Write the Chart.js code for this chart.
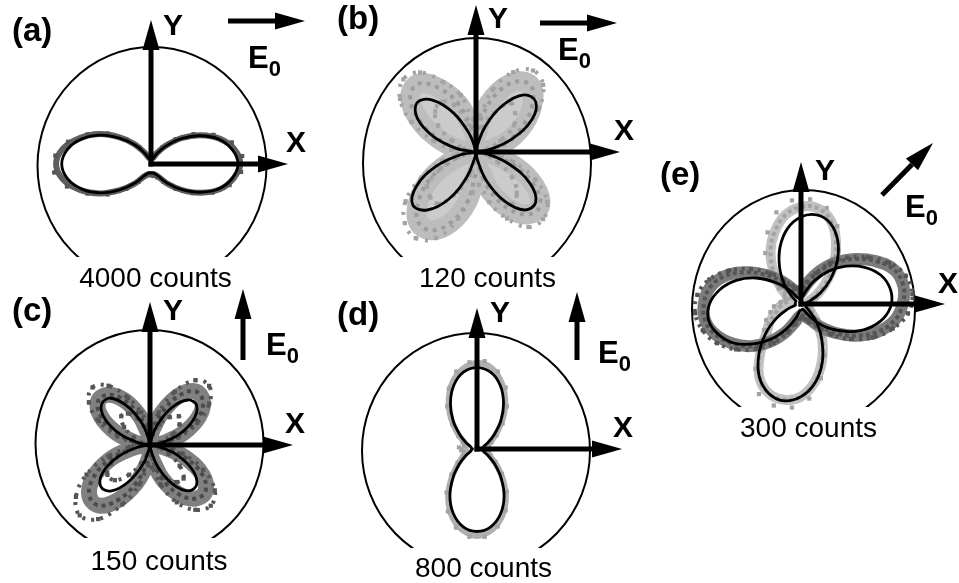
<!DOCTYPE html>
<html>
<head>
<meta charset="utf-8">
<title>Polar emission patterns</title>
<script src="https://cdn.jsdelivr.net/npm/chart.js@4.4.0/dist/chart.umd.min.js"></script>
<style>
  html, body { margin: 0; padding: 0; background: #fff; }
  #wrap { position: relative; width: 959px; height: 583px; overflow: hidden; }
  #wrap canvas { position: absolute; left: 0; top: 0; }
</style>
</head>
<body>
<div id="wrap">
  <canvas id="panel-a" width="959" height="583"></canvas>
  <canvas id="panel-b" width="959" height="583"></canvas>
  <canvas id="panel-c" width="959" height="583"></canvas>
  <canvas id="panel-d" width="959" height="583"></canvas>
  <canvas id="panel-e" width="959" height="583"></canvas>
</div>
<script>
/*
Polar plots of emission patterns, five panels (a)-(e).
Radii are in units where the outer ring = 100.
Angles in degrees, counter-clockwise from +X.
*/

const theta = [0, 10, 20, 30, 40, 50, 60, 70, 80, 90, 100, 110, 120, 130, 140, 150, 160, 170, 180,
  190, 200, 210, 220, 230, 240, 250, 260, 270, 280, 290, 300, 310, 320, 330, 340, 350, 360];
const thetaShift = [-90, -80, -70, -60, -50, -40, -30, -20, -10, 0, 10, 20, 30, 40, 50, 60, 70, 80, 90,
  100, 110, 120, 130, 140, 150, 160, 170, 180, 190, 200, 210, 220, 230, 240, 250, 260, 270];
const thetaMid = [5, 15, 25, 35, 45, 55, 65, 75, 85, 95, 105, 115, 125, 135, 145, 155, 165, 175,
  185, 195, 205, 215, 225, 235, 245, 255, 265, 275, 285, 295, 305, 315, 325, 335, 345, 355];
const thetaShiftMid = [-85, -75, -65, -55, -45, -35, -25, -15, -5, 5, 15, 25, 35, 45, 55, 65, 75, 85,
  95, 105, 115, 125, 135, 145, 155, 165, 175, 185, 195, 205, 215, 225, 235, 245, 255, 265];

// (a) 4000 counts, E0 along X (uses thetaShift)
const fitA = [8, 8, 9, 12, 22, 35, 50, 64, 73, 77, 73, 64, 50, 35, 21, 11, 5, 4, 4,
  4, 5, 11, 22, 35, 51, 65, 75, 79, 75, 65, 51, 35, 22, 12, 9, 8, 8];
const dataA = [9, 9, 10, 13, 23, 36, 51, 65, 74, 79, 75, 65, 51, 36, 22, 12, 6, 5, 5,
  5, 6, 12, 23, 37, 53, 67, 79, 84, 79, 67, 52, 36, 23, 13, 10, 9, 9];
const scatterA = [10, 11, 13, 19, 31, 45, 60, 72, 80, 81, 74, 61, 46, 31, 18, 10, 6, 6,
  6, 6, 9, 18, 31, 47, 62, 76, 85, 86, 77, 62, 47, 31, 19, 12, 10, 10];

// (b) 120 counts, E0 along X
const fitB = [0, 12, 34, 57, 69, 66, 48, 24, 5, 0, 2, 17, 40, 60, 68, 60, 40, 17, 2,
  14, 38, 61, 73, 67, 48, 23, 4, 0, 7, 27, 50, 67, 69, 55, 31, 10, 0];
const dataB = [3, 13, 31, 49, 65, 76, 72, 56, 33, 15, 22, 45, 65, 79, 76, 59, 37, 18, 7,
  9, 23, 46, 66, 80, 80, 67, 45, 19, 16, 37, 58, 72, 74, 60, 37, 16, 3];
const scatterOutB = [9, 26, 46, 68, 84, 88, 78, 57, 31, 29, 52, 68, 86, 91, 82, 63, 39, 22,
  17, 31, 53, 76, 89, 93, 84, 61, 36, 29, 46, 65, 81, 84, 77, 58, 34, 16];
const scatterInB = [3, 11, 24, 41, 49, 53, 38, 23, 9, 11, 25, 46, 54, 51, 41, 23, 11, 5,
  6, 16, 34, 53, 57, 56, 39, 21, 9, 8, 25, 41, 56, 51, 39, 21, 9, 4];

// (c) 150 counts, E0 along Y
const fitC = [0, 9, 27, 44, 54, 52, 38, 19, 4, 0, 4, 20, 39, 54, 56, 46, 28, 9, 0,
  11, 30, 48, 57, 53, 37, 18, 3, 0, 5, 21, 40, 53, 54, 43, 25, 8, 0];
const dataC = [4, 14, 32, 50, 61, 62, 50, 30, 14, 8, 12, 28, 46, 58, 60, 50, 32, 14, 6,
  16, 38, 58, 70, 70, 56, 36, 18, 10, 14, 32, 50, 62, 64, 54, 34, 14, 4];
const scatterOutC = [10, 26, 46, 64, 74, 70, 52, 30, 16, 18, 30, 46, 64, 72, 66, 50, 30, 14,
  18, 38, 62, 80, 88, 80, 58, 36, 18, 20, 36, 56, 70, 76, 70, 52, 30, 12];
const scatterInC = [3, 10, 22, 32, 36, 30, 20, 10, 6, 6, 14, 26, 34, 36, 28, 16, 8, 4,
  8, 22, 38, 46, 44, 32, 18, 8, 4, 6, 18, 32, 40, 42, 32, 18, 8, 3];

// (d) 800 counts, E0 along Y
const fitD = [4, 5, 6, 11, 20, 33, 47, 60, 69, 72, 69, 60, 47, 33, 20, 11, 6, 5, 4,
  5, 6, 11, 20, 33, 48, 61, 70, 73, 70, 61, 48, 33, 20, 11, 6, 5, 4];
const dataD = [9, 8, 10, 15, 23, 36, 50, 63, 73, 76, 72, 63, 50, 36, 23, 14, 10, 10, 12,
  9, 10, 15, 23, 36, 51, 64, 73, 77, 73, 64, 51, 36, 23, 14, 10, 8, 9];
const scatterD = [10, 11, 14, 21, 32, 46, 60, 71, 78, 77, 71, 59, 46, 31, 20, 14, 12, 16,
  14, 12, 14, 21, 32, 47, 61, 72, 78, 78, 71, 60, 46, 31, 20, 13, 11, 10];

// (e) 300 counts, E0 at 45 deg: horizontal lobes (dark, thetaShift) + vertical lobes (light, theta)
const fitEH = [5, 5, 5, 9, 20, 34, 49, 63, 74, 80, 80, 75, 65, 52, 38, 24, 12, 6, 5,
  5, 5, 7, 17, 30, 46, 61, 73, 81, 83, 78, 69, 55, 40, 25, 13, 6, 5];
const fitEV = [5, 5, 9, 20, 34, 50, 65, 76, 80, 77, 68, 54, 38, 23, 11, 5, 5, 5, 5,
  5, 12, 25, 41, 58, 74, 84, 87, 82, 71, 55, 37, 22, 10, 5, 5, 5, 5];
const dataEH = [10, 10, 12, 16, 26, 40, 56, 72, 84, 90, 92, 88, 76, 62, 48, 34, 22, 14, 10,
  10, 12, 16, 26, 40, 56, 72, 82, 86, 86, 80, 70, 58, 44, 30, 18, 12, 10];
const scatterEH = [12, 14, 18, 24, 38, 54, 70, 84, 95, 99, 96, 86, 72, 58, 44, 30, 20, 15,
  13, 14, 18, 26, 38, 54, 70, 84, 92, 94, 90, 82, 70, 56, 42, 28, 18, 13];
const dataEV = [6, 6, 8, 16, 28, 45, 62, 78, 86, 86, 80, 68, 54, 38, 24, 14, 10, 12, 16,
  20, 24, 32, 40, 56, 74, 84, 86, 82, 70, 54, 38, 22, 12, 8, 6, 6, 6];
const scatterEV = [8, 9, 14, 24, 40, 58, 76, 88, 93, 92, 84, 70, 55, 38, 24, 16, 14, 18,
  24, 28, 34, 40, 52, 70, 88, 93, 92, 84, 68, 50, 34, 20, 12, 9, 8, 8];

const W = 959;
const H = 583;
const K = 1.13; // px per unit
const FONT = "'Liberation Sans', Arial, sans-serif";
const DARK = '#555555';
const LIGHT = '#a3a3a3';

function toXY(angles, radii) {
  return radii.map((r, i) => {
    const t = (angles[i] * Math.PI) / 180;
    return { x: r * Math.cos(t), y: r * Math.sin(t) };
  });
}

const fitLine = (angles, radii) => ({
  data: toXY(angles, radii),
  showLine: true,
  borderColor: '#000',
  borderWidth: 2.8,
  pointRadius: 0,
  tension: 0.4,
});

// smooth band under the measured points, optionally filled inside
const band = (angles, radii, color, width, fillColor) => ({
  data: toXY(angles, radii),
  showLine: true,
  borderColor: color,
  borderWidth: width,
  borderJoinStyle: 'round',
  borderCapStyle: 'round',
  pointRadius: 0,
  tension: 0.4,
  fill: fillColor ? 'shape' : false,
  backgroundColor: fillColor || 'transparent',
});

// dashed trace to give the band a speckled look
const speckle = (angles, radii, color, dash, offset) => ({
  data: toXY(angles, radii),
  showLine: true,
  borderColor: color,
  borderWidth: 4,
  borderDash: dash,
  borderDashOffset: offset,
  borderCapStyle: 'butt',
  pointRadius: 0,
  tension: 0.4,
});

const dots = (angles, radii, color) => ({
  data: toXY(angles, radii),
  showLine: false,
  pointStyle: 'rect',
  pointRadius: 3,
  pointBackgroundColor: color,
  pointBorderWidth: 0,
  borderWidth: 0,
});

/* page layout of each panel, in px (first dataset is drawn on top) */
const panels = [
  {
    id: 'panel-a', origin: [151, 164],
    ring: { cx: 152, cy: 166, a: 114.5, b: 119, cut: 257 },
    yTip: 20, xTip: 288, field: [228, 21, 305, 21],
    tag: ['(a)', 12, 41], yLabel: [163, 35], xLabel: [286, 152], eLabel: [248, 68],
    counts: ['4000 counts', 155.5, 287],
    datasets: [
      fitLine(thetaShift, fitA),
      dots(thetaShiftMid, scatterA, DARK),
      band(thetaShift, dataA, '#5e5e5e', 6),
    ],
  },
  {
    id: 'panel-b', origin: [476, 152],
    ring: { cx: 477, cy: 163, a: 114, b: 125, cut: 257 },
    yTip: 5, xTip: 620, field: [540, 23, 617, 23],
    tag: ['(b)', 337, 29], yLabel: [488, 28], xLabel: [614, 140], eLabel: [558, 60],
    counts: ['120 counts', 487.5, 287],
    datasets: [
      fitLine(theta, fitB),
      dots(thetaMid, scatterOutB, LIGHT),
      dots(thetaMid, scatterInB, LIGHT),
      speckle(theta, dataB, '#9c9c9c', [4, 5], 0),
      speckle(thetaMid, scatterOutB, LIGHT, [3, 7], 3),
      speckle(thetaMid, scatterInB, LIGHT, [4, 6], 5),
      band(theta, dataB, '#bdbdbd', 20, '#cbcbcb'),
    ],
  },
  {
    id: 'panel-c', origin: [150, 445],
    ring: { cx: 149.5, cy: 443.5, a: 114, b: 113.5, cut: 538 },
    yTip: 302, xTip: 293, field: [243, 360, 243, 289],
    tag: ['(c)', 12, 321], yLabel: [163, 320], xLabel: [285, 433], eLabel: [266, 355],
    counts: ['150 counts', 159, 570],
    datasets: [
      fitLine(theta, fitC),
      dots(thetaMid, scatterOutC, DARK),
      dots(thetaMid, scatterInC, DARK),
      speckle(theta, dataC, '#4a4a4a', [4, 4], 0),
      speckle(thetaMid, scatterOutC, DARK, [3, 6], 2),
      speckle(thetaMid, scatterInC, DARK, [3, 6], 4),
      band(theta, dataC, '#808080', 16),
    ],
  },
  {
    id: 'panel-d', origin: [477, 449],
    ring: { cx: 476, cy: 450.5, a: 114, b: 117.4, cut: 548 },
    yTip: 308, xTip: 622, field: [577, 360, 577, 292],
    tag: ['(d)', 337, 325], yLabel: [490, 322], xLabel: [613, 437], eLabel: [598, 363],
    counts: ['800 counts', 483.5, 577],
    datasets: [
      fitLine(theta, fitD),
      dots(thetaMid, scatterD, LIGHT),
      band(theta, dataD, '#b0b0b0', 6),
    ],
  },
  {
    id: 'panel-e', origin: [801, 304],
    ring: { cx: 803.5, cy: 309, a: 111.5, b: 119, cut: 407 },
    yTip: 162, xTip: 945, field: [882, 195, 933, 143],
    tag: ['(e)', 660, 185], yLabel: [815, 180], xLabel: [938, 293], eLabel: [905, 217],
    counts: ['300 counts', 808.5, 437],
    datasets: [
      fitLine(thetaShift, fitEH),
      fitLine(theta, fitEV),
      dots(thetaShiftMid, scatterEH, DARK),
      speckle(thetaShift, dataEH, DARK, [4, 3], 0),
      speckle(thetaShiftMid, scatterEH, DARK, [3, 5], 2),
      band(thetaShift, dataEH, '#7c7c7c', 12),
      dots(thetaMid, scatterEV, LIGHT),
      speckle(theta, dataEV, LIGHT, [4, 3], 1),
      band(theta, dataEV, '#c2c2c2', 10),
    ],
  },
];

function arrow(ctx, x1, y1, x2, y2) {
  const ang = Math.atan2(y2 - y1, x2 - x1);
  const head = 30;
  const half = 8.5;
  const bx = x2 - head * Math.cos(ang);
  const by = y2 - head * Math.sin(ang);
  ctx.beginPath();
  ctx.moveTo(x1, y1);
  ctx.lineTo(bx, by);
  ctx.lineWidth = 5;
  ctx.lineCap = 'butt';
  ctx.strokeStyle = '#000';
  ctx.stroke();
  ctx.beginPath();
  ctx.moveTo(x2, y2);
  ctx.lineTo(bx + half * Math.sin(ang), by - half * Math.cos(ang));
  ctx.lineTo(bx - half * Math.sin(ang), by + half * Math.cos(ang));
  ctx.closePath();
  ctx.fillStyle = '#000';
  ctx.fill();
}

function decor(p) {
  return {
    id: 'decor',
    beforeDatasetsDraw(chart) {
      const ctx = chart.ctx;
      const r = p.ring;
      ctx.save();
      ctx.beginPath();
      ctx.rect(0, 0, W, r.cut);
      ctx.clip();
      ctx.beginPath();
      ctx.ellipse(r.cx, r.cy, r.a, r.b, 0, 0, Math.PI * 2);
      ctx.lineWidth = 2;
      ctx.strokeStyle = '#000';
      ctx.stroke();
      ctx.restore();
    },
    afterDatasetsDraw(chart) {
      const ctx = chart.ctx;
      const ox = chart.scales.x.getPixelForValue(0);
      const oy = chart.scales.y.getPixelForValue(0);
      ctx.save();
      // axes
      arrow(ctx, ox, oy + 2.5, ox, p.yTip);
      arrow(ctx, ox - 2.5, oy, p.xTip, oy);
      // field direction
      const f = p.field;
      arrow(ctx, f[0], f[1], f[2], f[3]);

      ctx.fillStyle = '#000';
      ctx.textBaseline = 'alphabetic';
      ctx.textAlign = 'left';
      ctx.font = `bold 33px ${FONT}`;
      ctx.fillText(p.tag[0], p.tag[1], p.tag[2]);
      ctx.font = `bold 30px ${FONT}`;
      ctx.fillText('Y', p.yLabel[0], p.yLabel[1]);
      ctx.fillText('X', p.xLabel[0], p.xLabel[1]);
      ctx.font = `bold 31px ${FONT}`;
      ctx.fillText('E', p.eLabel[0], p.eLabel[1]);
      const ew = ctx.measureText('E').width;
      ctx.font = `bold 22px ${FONT}`;
      ctx.fillText('0', p.eLabel[0] + ew, p.eLabel[1] + 8);

      ctx.font = `28px ${FONT}`;
      ctx.textAlign = 'center';
      ctx.fillText(p.counts[0], p.counts[1], p.counts[2]);
      ctx.restore();
    },
  };
}

panels.forEach((p) => {
  const ox = p.origin[0];
  const oy = p.origin[1];
  new Chart(document.getElementById(p.id), {
    type: 'scatter',
    data: { datasets: p.datasets },
    options: {
      responsive: false,
      devicePixelRatio: 1,
      animation: false,
      events: [],
      layout: { padding: 0, autoPadding: false },
      scales: {
        x: { type: 'linear', display: false, bounds: 'data', min: -ox / K, max: (W - ox) / K },
        y: { type: 'linear', display: false, bounds: 'data', min: -(H - oy) / K, max: oy / K },
      },
      plugins: {
        legend: { display: false },
        tooltip: { enabled: false },
      },
    },
    plugins: [decor(p)],
  });
});
</script>
</body>
</html>
